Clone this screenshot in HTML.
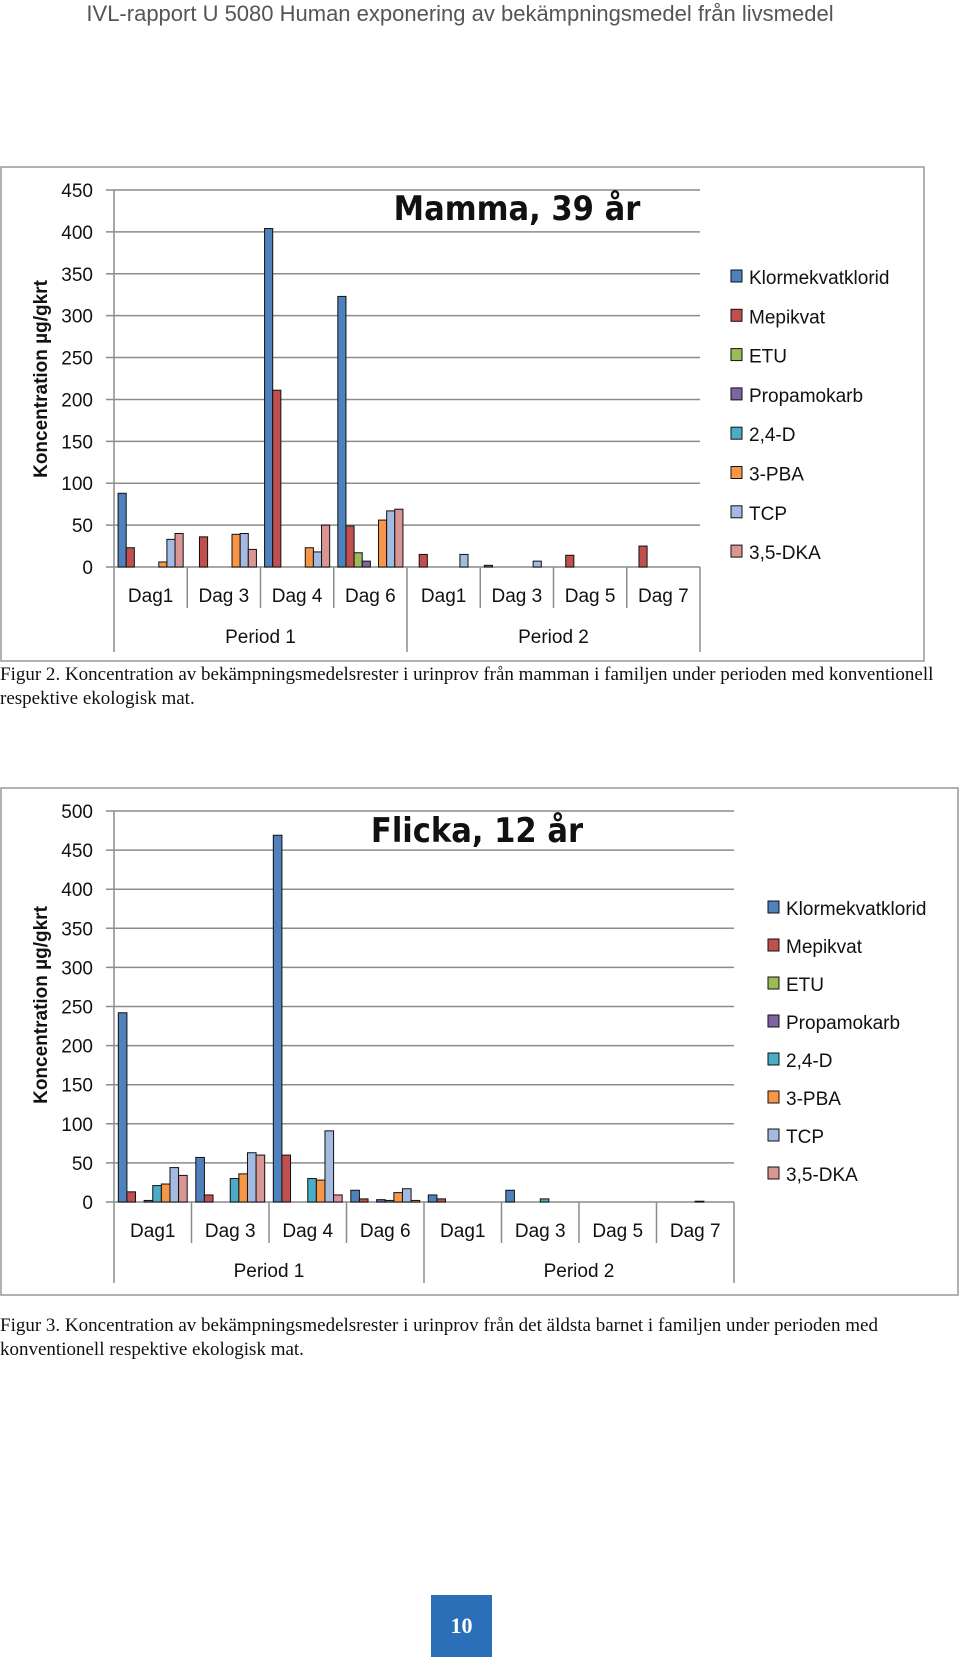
<!DOCTYPE html>
<html><head><meta charset="utf-8"><style>
body{margin:0;width:960px;height:1659px;background:#fff;position:relative;overflow:hidden;font-family:"Liberation Sans",sans-serif}
.hdr{position:absolute;left:0;top:0;width:920px;text-align:center;font-size:22px;color:#555;line-height:28px}
.cap{position:absolute;left:0;font-family:"Liberation Serif",serif;font-size:19px;line-height:24px;color:#111;width:940px}
.pg{position:absolute;left:431px;top:1595px;width:61px;height:62px;background:#2a6fb7;color:#fff;font-family:"Liberation Serif",serif;font-weight:bold;font-size:22px;text-align:center;line-height:62px}
svg{position:absolute;left:0;top:0}
</style></head><body>
<div class="hdr">IVL-rapport U 5080 Human exponering av bekämpningsmedel från livsmedel</div>
<svg id="c" width="960" height="1659"></svg>
<div class="cap" style="top:663px"><b style="font-weight:normal">Figur 2</b>. Koncentration av bekämpningsmedelsrester i urinprov från mamman i familjen under perioden med konventionell respektive ekologisk mat.</div>
<div class="cap" style="top:1314px">Figur 3. Koncentration av bekämpningsmedelsrester i urinprov från det äldsta barnet i familjen under perioden med konventionell respektive ekologisk mat.</div>
<div class="pg">10</div>
<script>
const categories=["Dag1","Dag 3","Dag 4","Dag 6","Dag1","Dag 3","Dag 5","Dag 7"];
const periods=["Period 1","Period 2"];
const seriesNames=["Klormekvatklorid","Mepikvat","ETU","Propamokarb","2,4-D","3-PBA","TCP","3,5-DKA"];
const seriesColors=["#4f81bd","#c0504d","#9bbb59","#8064a2","#4bacc6","#f79646","#a3bbe0","#d99694"];
// Mamma: values per series, per category
const mammaKlor=[88,0,404,323,0,2,0,0];
const mammaMep=[23,36,211,49,15,0,14,25];
const mammaETU=[0,0,0,17,0,0,0,0];
const mammaProp=[0,0,0,7,0,0,0,0];
const mamma24D=[0,0,0,0,0,0,0,0];
const mammaPBA=[6,39,23,56,0,0,0,0];
const mammaTCP=[33,40,18,67,15,7,0,0];
const mammaDKA=[40,21,50,69,0,0,0,0];
const mammaTicks=[0,50,100,150,200,250,300,350,400,450];
// Flicka
const flickaKlor=[242,57,469,15,9,15,0,0];
const flickaMep=[13,9,60,4,4,0,0,0];
const flickaETU=[0,0,0,0,0,0,0,0];
const flickaProp=[2,0,0,3,0,0,0,0];
const flicka24D=[21,30,30,2,0,4,0,1];
const flickaPBA=[23,36,28,12,0,0,0,0];
const flickaTCP=[44,63,91,17,0,0,0,0];
const flickaDKA=[34,60,9,2,0,0,0,0];
const flickaTicks=[0,50,100,150,200,250,300,350,400,450,500];

const NS="http://www.w3.org/2000/svg";
const svg=document.getElementById('c');
function mk(tag,attrs,parent,text){const e=document.createElementNS(NS,tag);for(const k in attrs)e.setAttribute(k,attrs[k]);if(text!=null)e.textContent=text;(parent||svg).appendChild(e);return e;}

function drawChart(cfg){
  const g=mk('g',{});
  
  
  const fr=mk('rect',{x:cfg.frame[0],y:cfg.frame[1],width:cfg.frame[2],height:cfg.frame[3],fill:'none',stroke:'#999','stroke-width':1.5},g);
  
  
  const x0=cfg.x0,x1=cfg.x1,y0=cfg.y0,yTop=cfg.yTop,max=cfg.ticks[cfg.ticks.length-1];
  const yS=v=>y0-(v/max)*(y0-yTop);
  const gw=(x1-x0)/categories.length;
  const xS=i=>x0+i*gw;
  cfg.ticks.forEach(t=>{
    const l=mk('line',{x1:x0-8,x2:x1,y1:yS(t),y2:yS(t),stroke:'#8c8c8c','stroke-width':1.5},g);
    
    
    const tx=mk('text',{x:93,y:yS(t)+7,'text-anchor':'end','font-size':19,fill:'#111'},g,String(t));
    
    
  });
  mk('line',{x1:x0,x2:x0,y1:yTop,y2:cfg.bot,stroke:'#8c8c8c','stroke-width':1.5},g);
  for(let i=1;i<=categories.length;i++){
    const isP=(i===4||i===8);
    mk('line',{x1:xS(i),x2:xS(i),y1:y0,y2:isP?cfg.bot:cfg.dagBot,stroke:'#8c8c8c','stroke-width':1.5},g);
  }
  categories.forEach((c,i)=>{
    const t=mk('text',{x:xS(i)+gw/2,y:cfg.dagY,'text-anchor':'middle','font-size':19,fill:'#111'},g,c);
    
    
  });
  periods.forEach((p,i)=>{
    const t=mk('text',{x:xS(i*4)+gw*2,y:cfg.perY,'text-anchor':'middle','font-size':19,fill:'#111'},g,p);
    
    
  });
  const bw=gw/9;
  cfg.series.forEach((arr,s)=>{
    arr.forEach((v,i)=>{
      if(v<=0)return;
      const r=mk('rect',{x:xS(i)+bw/2+s*bw,y:yS(v),width:bw,height:y0-yS(v),fill:seriesColors[s],stroke:'#111','stroke-width':1},g);
      
      
    });
  });
  const title=mk('text',{x:cfg.titleX,y:cfg.titleY,'text-anchor':'middle','font-size':34,'font-weight':'bold',fill:'#111','font-family':'"DejaVu Sans Condensed","Liberation Sans Narrow","Liberation Sans",sans-serif'},g,cfg.title);
  
  
  const yt=mk('text',{x:0,y:0,transform:`translate(47,${cfg.ytY}) rotate(-90)`,'text-anchor':'middle','font-size':19,'font-weight':'bold',fill:'#111'},g,'Koncentration µg/gkrt');
  
  
  seriesNames.forEach((n,s)=>{
    const yy=cfg.legY+s*cfg.legStep;
    const sq=mk('rect',{x:cfg.legX,y:yy-7,width:11,height:12,fill:seriesColors[s],stroke:'#111','stroke-width':1},g);
    
    
    const t=mk('text',{x:cfg.legX+18,y:yy+7,'font-size':19,fill:'#111'},g,n);
    
    
  });
}
drawChart({name:'mamma-chart',frame:[1,167,923,494],x0:114,x1:700,y0:567,yTop:190,bot:652,dagBot:608,dagY:602,perY:643,
  ticks:mammaTicks,series:[mammaKlor,mammaMep,mammaETU,mammaProp,mamma24D,mammaPBA,mammaTCP,mammaDKA],
  title:'Mamma, 39 år',titleX:517,titleY:220,ytY:379,legX:731,legY:277,legStep:39.3});
drawChart({name:'flicka-chart',frame:[1,788,957,507],x0:114,x1:734,y0:1202,yTop:811,bot:1283,dagBot:1243,dagY:1237,perY:1277,
  ticks:flickaTicks,series:[flickaKlor,flickaMep,flickaETU,flickaProp,flicka24D,flickaPBA,flickaTCP,flickaDKA],
  title:'Flicka, 12 år',titleX:477,titleY:842,ytY:1005,legX:768,legY:908,legStep:38});
</script>
</body></html>
